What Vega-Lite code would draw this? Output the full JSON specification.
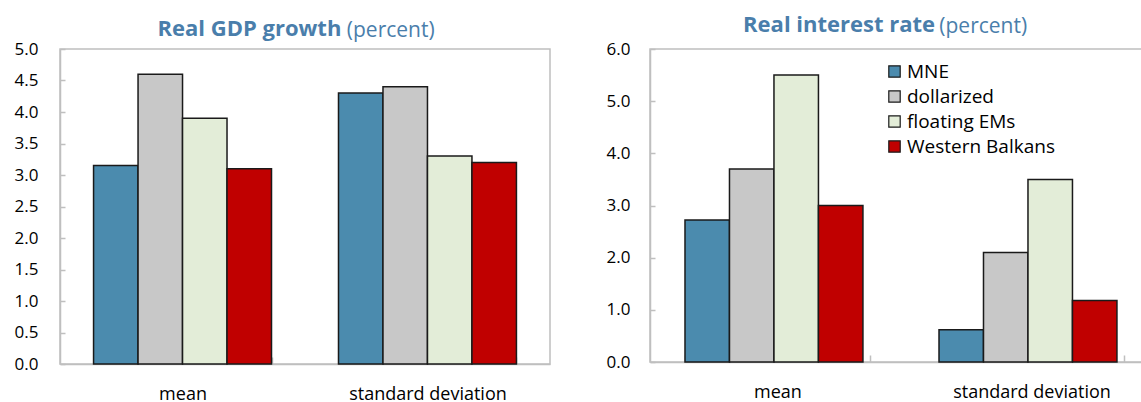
{
  "$schema": "https://vega.github.io/schema/vega-lite/v6.json",
  "padding": {"left": 13, "top": 13, "right": 0, "bottom": 0},
  "spacing": 54,
  "config": {
    "font": "Open Sans",
    "view": {"stroke": "#bfbfbf", "strokeWidth": 1.5},
    "axis": {"labelFont": "Open Sans", "labelColor": "#000000", "domainColor": "#bfbfbf", "domainWidth": 1.5, "tickColor": "#bfbfbf", "tickWidth": 1.5, "grid": false, "title": null},
    "title": {"font": "Open Sans", "fontSize": 22, "fontWeight": "bold", "color": "#4A7EAB", "subtitleFont": "Open Sans", "subtitleFontSize": 21, "subtitleFontWeight": "normal", "subtitleColor": "#4A7EAB", "subtitlePadding": -21, "anchor": "middle", "dx": -7},
    "legend": {"labelFont": "Open Sans", "labelFontSize": 19, "labelColor": "#000000"}
  },
  "datasets": {
    "gdp": [
      {"stat": "mean", "series": "MNE", "value": 3.15},
      {"stat": "mean", "series": "dollarized", "value": 4.6},
      {"stat": "mean", "series": "floating EMs", "value": 3.9},
      {"stat": "mean", "series": "Western Balkans", "value": 3.1},
      {"stat": "standard deviation", "series": "MNE", "value": 4.3},
      {"stat": "standard deviation", "series": "dollarized", "value": 4.4},
      {"stat": "standard deviation", "series": "floating EMs", "value": 3.3},
      {"stat": "standard deviation", "series": "Western Balkans", "value": 3.2}
    ],
    "rate": [
      {"stat": "mean", "series": "MNE", "value": 2.72},
      {"stat": "mean", "series": "dollarized", "value": 3.7},
      {"stat": "mean", "series": "floating EMs", "value": 5.5},
      {"stat": "mean", "series": "Western Balkans", "value": 3.0},
      {"stat": "standard deviation", "series": "MNE", "value": 0.62},
      {"stat": "standard deviation", "series": "dollarized", "value": 2.1},
      {"stat": "standard deviation", "series": "floating EMs", "value": 3.5},
      {"stat": "standard deviation", "series": "Western Balkans", "value": 1.18}
    ]
  },
  "resolve": {"legend": {"color": "independent"}},
  "hconcat": [
    {
      "width": 490,
      "height": 315,
      "data": {"name": "gdp"},
      "title": {
        "text": "Real GDP growth\u00a0\u00a0\u00a0\u00a0\u00a0\u00a0\u00a0\u00a0\u00a0\u00a0\u00a0\u00a0\u00a0\u00a0\u00a0\u00a0\u00a0\u200b",
        "subtitle": "\u200b\u00a0\u00a0\u00a0\u00a0\u00a0\u00a0\u00a0\u00a0\u00a0\u00a0\u00a0\u00a0\u00a0\u00a0\u00a0\u00a0\u00a0\u00a0\u00a0\u00a0\u00a0\u00a0\u00a0\u00a0\u00a0\u00a0\u00a0\u00a0\u00a0\u00a0\u00a0\u00a0\u00a0\u00a0(percent)",
        "offset": -2
      },
      "mark": {"type": "bar", "stroke": "#1a1a1a", "strokeWidth": 1.5},
      "encoding": {
        "x": {"field": "stat", "type": "nominal", "sort": ["mean", "standard deviation"],
          "scale": {"paddingInner": 0.2735, "paddingOuter": 0.137},
          "axis": {"labelAngle": 0, "labelFontSize": 18, "tickBand": "extent", "tickSize": -7, "labelPadding": 28}},
        "xOffset": {"field": "series", "type": "nominal", "sort": ["MNE", "dollarized", "floating EMs", "Western Balkans"], "scale": {"paddingInner": 0, "paddingOuter": 0}},
        "y": {"field": "value", "type": "quantitative", "scale": {"domain": [0, 5], "nice": false},
          "axis": {"values": [0, 0.5, 1, 1.5, 2, 2.5, 3, 3.5, 4, 4.5, 5], "format": ".1f", "labelFontSize": 17, "tickSize": -5, "labelPadding": 27}},
        "color": {"field": "series", "type": "nominal", "sort": ["MNE", "dollarized", "floating EMs", "Western Balkans"],
          "scale": {"domain": ["MNE", "dollarized", "floating EMs", "Western Balkans"], "range": ["#4B8BAE", "#c8c8c8", "#e3edd8", "#c00000"]},
          "legend": null}
      }
    },
    {
      "width": 495,
      "height": 313,
      "data": {"name": "rate"},
      "title": {
        "text": "Real interest rate\u00a0\u00a0\u00a0\u00a0\u00a0\u00a0\u00a0\u00a0\u00a0\u00a0\u00a0\u00a0\u00a0\u00a0\u00a0\u00a0\u00a0\u00a0\u200b",
        "subtitle": "\u200b\u00a0\u00a0\u00a0\u00a0\u00a0\u00a0\u00a0\u00a0\u00a0\u00a0\u00a0\u00a0\u00a0\u00a0\u00a0\u00a0\u00a0\u00a0\u00a0\u00a0\u00a0\u00a0\u00a0\u00a0\u00a0\u00a0\u00a0\u00a0\u00a0\u00a0\u00a0\u00a0\u00a0\u00a0(percent)",
        "offset": 2
      },
      "mark": {"type": "bar", "stroke": "#1a1a1a", "strokeWidth": 1.5},
      "encoding": {
        "x": {"field": "stat", "type": "nominal", "sort": ["mean", "standard deviation"],
          "scale": {"paddingInner": 0.2717, "paddingOuter": 0.1102, "align": 0.625},
          "axis": {"labelAngle": 0, "labelFontSize": 18, "tickBand": "extent", "tickSize": -7, "labelPadding": 28}},
        "xOffset": {"field": "series", "type": "nominal", "sort": ["MNE", "dollarized", "floating EMs", "Western Balkans"], "scale": {"paddingInner": 0, "paddingOuter": 0}},
        "y": {"field": "value", "type": "quantitative", "scale": {"domain": [0, 6], "nice": false},
          "axis": {"values": [0, 1, 2, 3, 4, 5, 6], "format": ".1f", "labelFontSize": 17, "tickSize": -5, "labelPadding": 25}},
        "color": {"field": "series", "type": "nominal", "sort": ["MNE", "dollarized", "floating EMs", "Western Balkans"],
          "scale": {"domain": ["MNE", "dollarized", "floating EMs", "Western Balkans"], "range": ["#4B8BAE", "#c8c8c8", "#e3edd8", "#c00000"]},
          "legend": {"title": null, "orient": "none", "legendX": 235, "legendY": 13, "symbolType": "square", "symbolSize": 130, "symbolStrokeColor": "#1a1a1a", "symbolStrokeWidth": 1.2, "symbolOpacity": 1, "labelOffset": 3, "rowPadding": 5}}
      }
    }
  ]
}
